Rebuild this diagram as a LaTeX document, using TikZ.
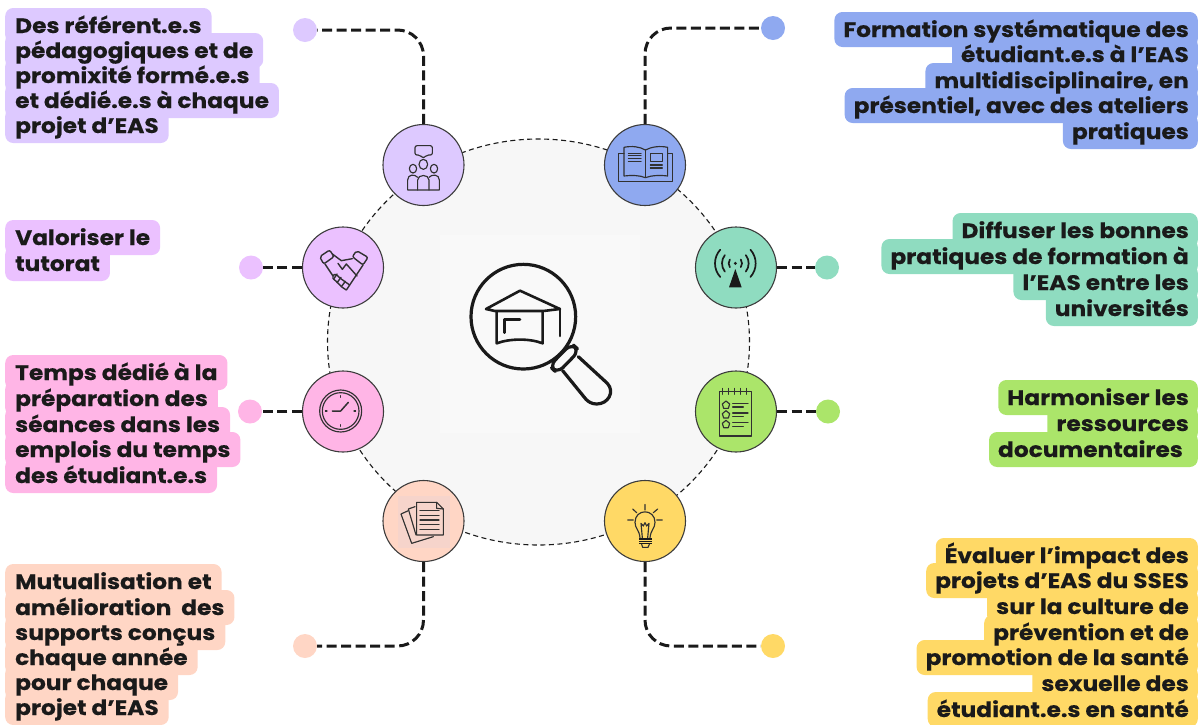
\documentclass[tikz,border=0pt]{standalone}
\usepackage{fontspec}
\setmainfont{Poppins}[FakeStretch=1.11,BoldFeatures={FakeBold=0.3}]
\usetikzlibrary{shapes.geometric}
\definecolor{cA}{HTML}{DDC9FF}\definecolor{cB}{HTML}{EBC1FF}\definecolor{cC}{HTML}{FFB5E6}\definecolor{cD}{HTML}{FFD6C5}
\definecolor{cE}{HTML}{8FA9F0}\definecolor{cF}{HTML}{8FDCC0}\definecolor{cG}{HTML}{ABE56A}\definecolor{cH}{HTML}{FFD966}
\definecolor{ink}{HTML}{1A1A1A}\definecolor{hubfill}{HTML}{F7F7F7}\definecolor{docbg}{HTML}{F6D4CB}
\tikzset{
 bgline/.style={inner ysep=0pt,text height=25pt,text depth=10pt,rounded corners=8pt,font=\bfseries\fontsize{21}{25}\selectfont},
 txline/.style={inner ysep=0pt,text height=25pt,text depth=10pt,text=ink,font=\bfseries\fontsize{21}{25}\selectfont},
 bub/.style={circle,draw=ink!85,line width=1.1pt,minimum size=81pt,inner sep=0pt},
 dot/.style={circle,minimum size=24pt,inner sep=0pt},
 link/.style={draw=ink,line width=3pt,dash pattern=on 10pt off 4.5pt,rounded corners=26pt},
 zm/.style={x=0.33333pt,y=-0.33333pt},
 ico/.style={draw=ink!90,line width=1.15pt,line join=round,line cap=round},
}
% name, colour, anchor, x, inner xsep, lines
\newcommand{\textblock}[6]{%
 \foreach \yy/\txt in {#6}{\node[bgline,inner xsep=#5pt,fill=#2,anchor=base #3] at (#4,\yy) {\phantom{\txt}};}
 \foreach \yy/\txt [count=\i] in {#6}{\node[txline,inner xsep=#5pt,anchor=base #3] (#1\i) at (#4,\yy) {\txt};}
}
\begin{document}
\begin{tikzpicture}[x=1pt,y=-1pt]
\useasboundingbox (0,0) rectangle (1199,724);
% hub
\node[ellipse,draw=ink,fill=hubfill,line width=1.1pt,dash pattern=on 5pt off 3.5pt,minimum width=422pt,minimum height=406pt,inner sep=0pt] (hub) at (538.5,342) {};
\fill[white,opacity=.25] (440,235) rectangle (640,433);
% dots
\node[dot,fill=cA] (d1) at (305,30) {};
\node[dot,fill=cB] (d2) at (251,267.5) {};
\node[dot,fill=cC] (d3) at (250,411.5) {};
\node[dot,fill=cD] (d4) at (305,646) {};
\node[dot,fill=cE] (d5) at (773,28) {};
\node[dot,fill=cF] (d6) at (827,267.5) {};
\node[dot,fill=cG] (d7) at (828,411.5) {};
\node[dot,fill=cH] (d8) at (773,646) {};
% circles
\node[bub,fill=cA] (c1) at (423.5,165) {};
\node[bub,fill=cB] (c2) at (343,267.5) {};
\node[bub,fill=cC] (c3) at (343,411.5) {};
\node[bub,fill=cD] (c4) at (423.5,521) {};
\node[bub,fill=cE] (c5) at (645,165) {};
\node[bub,fill=cF] (c6) at (736,267.5) {};
\node[bub,fill=cG] (c7) at (736,411.5) {};
\node[bub,fill=cH] (c8) at (645,521) {};
% connectors
\draw[link] (c1.north) |- (d1.east);
\draw[link] (c2.west) -- (d2.east);
\draw[link] (c3.west) -- (d3.east);
\draw[link] (c4.south) |- (d4.east);
\draw[link] (c5.north) |- (d5.west);
\draw[link] (c6.east) -- (d6.west);
\draw[link] (c7.east) -- (d7.west);
\draw[link] (c8.south) |- (d8.west);
% central magnifier
\begin{scope}[shift={(460,260)},zm,draw=ink,line width=3.2pt,line join=round,line cap=round]
 \draw (190,170) ellipse [x radius=157,y radius=157];
 \draw[rounded corners=8pt] (335,250) -- (358,272) -- (292,340) -- (268,318) -- cycle;
 \draw (355,290) -- (442,370) .. controls (465,395) and (445,432) .. (410,432) .. controls (395,432) and (385,425) .. (378,418) -- (308,332);
 \draw[line width=2.6pt] (78,147) -- (180,92) -- (300,147) -- (250,153) -- (105,153) -- cycle;
 \draw[line width=2.6pt] (110,155) -- (110,250) .. controls (150,235) and (210,235) .. (248,250) -- (248,155);
 \draw[line width=2.6pt] (300,147) -- (300,228);
 \draw[line width=2.6pt] (180,178) -- (133,178) -- (133,218);
\end{scope}
% icon 1: group
\begin{scope}[shift={(300,100)},zm,ico]
 \draw[rounded corners=2pt] (345,137) -- (397,137) -- (397,165) -- (380,165) -- (370,175) -- (360,165) -- (345,165) -- cycle;
 \draw (370,193) ellipse [x radius=13,y radius=15];
 \draw (339,206) ellipse [x radius=11,y radius=13];
 \draw (402,206) ellipse [x radius=11,y radius=13];
 \draw (353,270) -- (353,240) .. controls (353,222) and (387,222) .. (387,240) -- (387,270);
 \draw (353,232) .. controls (345,222) and (323,222) .. (323,240) -- (323,270) -- (418,270) -- (418,240) .. controls (418,222) and (395,222) .. (387,232);
\end{scope}
% icon 2: handshake
\begin{scope}[shift={(313,240)},zm,ico,line width=1.4pt]
 \draw[rounded corners=2pt] (20,50) -- (50,30) -- (63,50) -- (32,72) -- cycle;
 \draw[rounded corners=2pt] (118,50) -- (131,32) -- (165,52) -- (150,75) -- cycle;
 \draw (36,72) -- (60,108);
 \draw (58,42) -- (85,62) -- (118,56);
 \draw (150,75) -- (110,135);
 \draw (75,70) -- (88,88) -- (100,72) -- (132,108);
 \draw (60,108) .. controls (65,98) and (72,105) .. (82,115) -- (110,135) -- (100,150) -- (88,142) -- (60,115) -- cycle;
 \draw (72,102) -- (62,117) (84,112) -- (72,128) (97,124) -- (85,140);
\end{scope}
% icon 3: book
\begin{scope}[shift={(590,100)},zm,ico]
 \draw (102,142) .. controls (125,137) and (150,140) .. (166,150) .. controls (185,140) and (210,137) .. (233,142) -- (233,228) .. controls (210,225) and (185,226) .. (166,233) .. controls (150,226) and (125,225) .. (102,228) -- cycle;
 \draw (166,150) -- (166,233);
 \draw (102,160) -- (85,160) -- (85,245) -- (248,245) -- (248,160) -- (233,160);
 \draw (115,160) -- (153,160) (115,167) -- (153,167) (115,175) -- (153,175) (115,184) -- (153,184);
 \draw (181,160) rectangle (217,185);
 \draw (181,195) -- (217,195) (181,204) -- (217,204);
\end{scope}
% icon 4: antenna
\begin{scope}[shift={(590,100)},zm,draw=ink,line width=1.7pt,line cap=round]
 \fill[ink] (436,507) -- (417,562) -- (455,562) -- cycle;
 \fill[ink] (436,490) circle [radius=5];
 \foreach \r/\a in {20/35,40/38,61/42}{
  \draw (436,490) ++(180-\a:\r) arc [start angle=180-\a,end angle=180+\a,radius=\r];
  \draw (436,490) ++(-\a:\r) arc [start angle=-\a,end angle=\a,radius=\r];
 }
\end{scope}
% icon 5: clock
\begin{scope}[shift={(300,360)},zm,ico]
 \draw (122,153) ellipse [x radius=63,y radius=63];
 \draw (122,153) ellipse [x radius=55,y radius=55];
 \draw[line width=1.5pt] (97,153) -- (122,153) -- (145,127);
 \draw (122,107) -- (122,112) (122,194) -- (122,199) (76,153) -- (81,153) (162,153) -- (167,153);
\end{scope}
% icon 6: documents
\begin{scope}[shift={(300,360)},zm,ico]
 \fill[docbg] (293,407) rectangle (450,565);
 \draw (325,452) -- (303,462) -- (335,550) -- (400,530);
 \draw (345,440) -- (325,447) -- (348,525);
 \draw (350,427) -- (410,427) -- (430,447) -- (430,525) -- (350,525) -- cycle;
 \draw (410,427) -- (410,445) -- (430,447);
 \draw (360,452) -- (417,452) (360,466) -- (417,466) (360,480) -- (417,480) (360,494) -- (417,494) (360,508) -- (417,508);
\end{scope}
% icon 7: notepad
\begin{scope}[shift={(590,360)},zm,ico]
 \draw (389,95) rectangle (484,228);
 \foreach \xx in {398,416,434,452,470} \draw (\xx,85) -- (\xx,103);
 \foreach \yy in {135,164,193}{
  \draw (408,\yy-12) -- (419,\yy-3) -- (415,\yy+10) -- (401,\yy+10) -- (397,\yy-3) -- cycle;
  \draw (428,\yy-5) -- (474,\yy-5) (428,\yy+6) -- (460,\yy+6);
 }
\end{scope}
% icon 8: bulb
\begin{scope}[shift={(590,360)},zm,ico]
 \draw (165,433) -- (165,450) (128,447) -- (140,458) (203,447) -- (190,458) (113,480) -- (130,480) (200,480) -- (217,480);
 \draw (150,533) .. controls (148,510) and (135,505) .. (135,487) .. controls (135,445) and (195,445) .. (195,487) .. controls (195,505) and (182,510) .. (180,533);
 \draw (157,533) -- (153,490) -- (160,498) -- (165,488) -- (170,498) -- (177,490) -- (173,533);
 \fill[ink] (148,533) rectangle (186,553);
 \draw[cH,line width=.7pt] (148,540) -- (186,540) (148,547) -- (186,547);
 \draw (155,553) -- (158,562) -- (174,562) -- (178,553);
\end{scope}
% labels
\textblock{a}{cA}{west}{5}{10}{33/{Des référent.e.s},58/{pédagogiques et de},83/{promixité formé.e.s},108/{et dédié.e.s à chaque},133/{projet d’EAS}}
\textblock{b}{cB}{west}{5}{10}{245/{Valoriser le},271/{tutorat}}
\textblock{c}{cC}{west}{5}{10}{380/{Temps dédié à la},406/{préparation des},432/{séances dans les},457/{emplois du temps},483/{des étudiant.e.s}}
\textblock{d}{cD}{west}{5}{10}{589/{Mutualisation et},615/{amélioration\ \ des},640/{supports conçus},665/{chaque année},690/{pour chaque},715/{projet d’EAS}}
\textblock{e}{cE}{east}{1198}{9}{37/{Formation systématique des},62/{étudiant.e.s à l’EAS},88/{multidisciplinaire, en},113/{présentiel, avec des ateliers},139/{pratiques}}
\textblock{f}{cF}{east}{1198}{9}{238/{Diffuser les bonnes},264/{pratiques de formation à},290/{l’EAS entre les},316/{universités}}
\textblock{g}{cG}{east}{1198}{9}{405/{Harmoniser les},431/{ressources},457/{documentaires\kern6pt}}
\textblock{h}{cH}{east}{1198}{9}{563/{Évaluer l’impact des},588/{projets d’EAS du SSES},614/{sur la culture de},640/{prévention et de},665/{promotion de la santé},691/{sexuelle des},717/{étudiant.e.s en santé}}
\end{tikzpicture}
\end{document}
